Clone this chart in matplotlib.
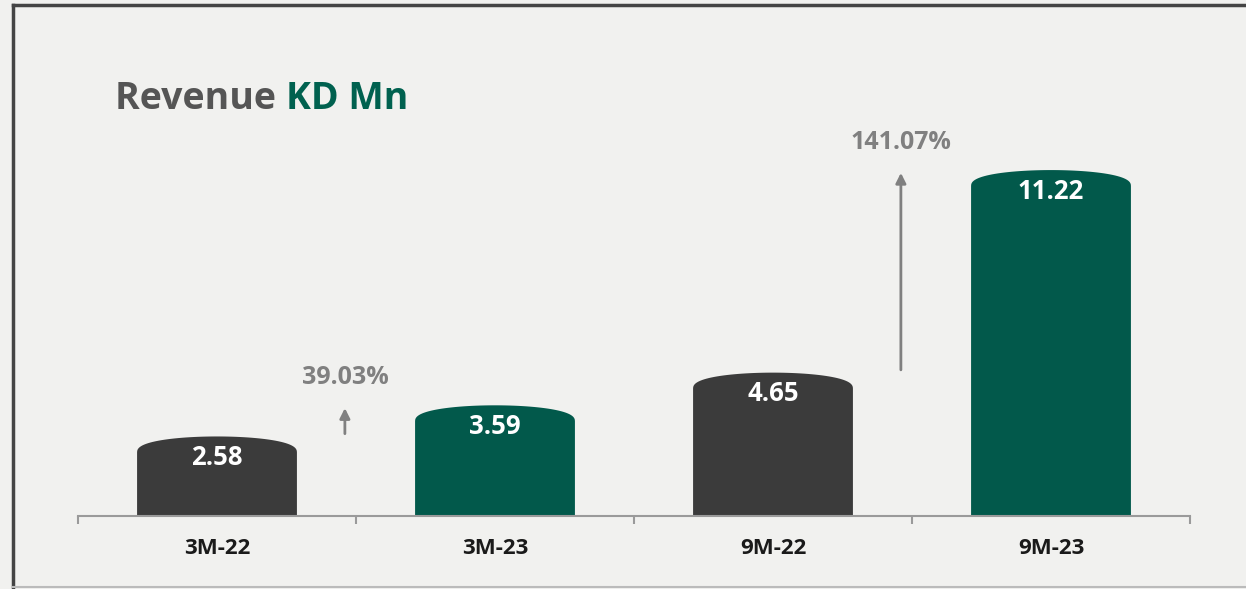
import numpy as np
import matplotlib
matplotlib.use("Agg")
import matplotlib.pyplot as plt
from matplotlib.path import Path
from matplotlib.patches import PathPatch
from matplotlib.lines import Line2D
from matplotlib.transforms import blended_transform_factory

plt.rcParams['font.family'] = ['Open Sans', 'DejaVu Sans']

categories = ["3M-22", "3M-23", "9M-22", "9M-23"]
revenue = [2.58, 3.59, 4.65, 11.22]
bar_colors = ["#3b3b3b", "#02594b", "#3b3b3b", "#02594b"]
growth_labels = ["39.03%", "141.07%"]
growth_pairs = [(0, 1), (2, 3)]  # (from, to) indices

GRAY = "#808080"
BG = "#f1f1ef"


def dome_bar(ax, xc, h, width, dome, color):
    # bar with an elliptical top, total height = h
    shoulder = h - dome
    t = np.linspace(np.pi, 0, 60)
    xs = xc + width / 2 * np.cos(t)
    ys = shoulder + dome * np.sin(t) ** 0.8
    verts = [(xc - width / 2, 0)] + list(zip(xs, ys)) + [(xc + width / 2, 0), (xc - width / 2, 0)]
    codes = [Path.MOVETO] + [Path.LINETO] * (len(verts) - 2) + [Path.CLOSEPOLY]
    ax.add_patch(PathPatch(Path(verts, codes), facecolor=color, edgecolor="none"))


fig = plt.figure(figsize=(12.46, 5.89), dpi=100, facecolor=BG)
ax = fig.add_axes([78 / 1246, 73 / 589, 1112 / 1246, 456 / 589])
ax.set_facecolor(BG)
ax.set_xlim(-0.5, 3.5)
ax.set_ylim(0, 14.79)

width = 0.575
for i, (v, c) in enumerate(zip(revenue, bar_colors)):
    dome_bar(ax, i, v, width, 0.52, c)
    ax.text(i, v - 0.68, f"{v:.2f}", ha="center", va="center", color="white",
            fontsize=18.5, fontweight="bold")

# growth arrows
for (a, b), lab in zip(growth_pairs, growth_labels):
    x = (a + b) / 2 - 0.04
    ax.annotate("", xy=(x, revenue[b]), xytext=(x, revenue[a]),
                arrowprops=dict(arrowstyle="-|>,head_length=0.6,head_width=0.3",
                                color=GRAY, lw=2))
    ax.text(x, revenue[b] + 0.9, lab, ha="center", va="center", color=GRAY,
            fontsize=18, fontweight="bold")

# axes styling
for s in ["top", "right", "left"]:
    ax.spines[s].set_visible(False)
ax.spines["bottom"].set_color("#9a9a9a")
ax.spines["bottom"].set_linewidth(1.5)
ax.set_yticks([])
ax.set_xticks(np.arange(-0.5, 4, 1))
ax.set_xticklabels([])
ax.tick_params(axis="x", length=6, width=1.5, color="#9a9a9a")
trans = blended_transform_factory(ax.transData, ax.transAxes)
for i, cat in enumerate(categories):
    ax.text(i, -33 / 456, cat, transform=trans, ha="center", va="center",
            fontsize=16, fontweight="bold", color="#1a1a1a")

# title
t1 = fig.text(115 / 1246, 1 - 99 / 589, "Revenue ", fontsize=27, fontweight="bold",
              color="#555555", va="center", ha="left")
fig.canvas.draw()
bb = t1.get_window_extent()
fig.text(bb.x1 / 1246, 1 - 99 / 589, "KD Mn", fontsize=27, fontweight="bold",
         color="#00614f", va="center", ha="left")

# frame lines
fig.add_artist(Line2D([13 / 1246, 13 / 1246], [0, 1 - 5 / 589], transform=fig.transFigure,
                      color="#444444", lw=2.5))
fig.add_artist(Line2D([13 / 1246, 1], [1 - 5 / 589, 1 - 5 / 589], transform=fig.transFigure,
                      color="#444444", lw=2.5))
fig.add_artist(Line2D([13 / 1246, 1], [2 / 589, 2 / 589], transform=fig.transFigure,
                      color="#bbbbbb", lw=1.5))

fig.savefig("out.png", dpi=100, facecolor=BG)
